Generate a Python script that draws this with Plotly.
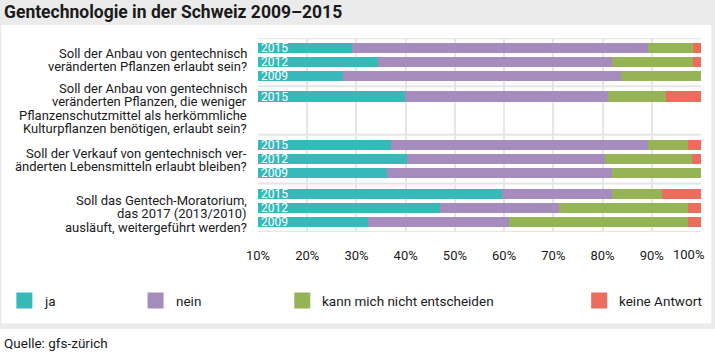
import plotly.graph_objects as go

# ---------------- data ----------------
questions = [
    ["Soll der Anbau von gentechnisch", "veränderten Pflanzen erlaubt sein?"],
    ["Soll der Anbau von gentechnisch", "veränderten Pflanzen, die weniger",
     "Pflanzenschutzmittel als herkömmliche", "Kulturpflanzen benötigen, erlaubt sein?"],
    ["Soll der Verkauf von gentechnisch ver-", "änderten Lebensmitteln erlaubt bleiben?"],
    ["Soll das Gentech-Moratorium,", "das 2017 (2013/2010)", "ausläuft, weitergeführt werden?"],
]
# years per question
years = [["2015", "2012", "2009"], ["2015"], ["2015", "2012", "2009"], ["2015", "2012", "2009"]]

series_names = ["ja", "nein", "kann mich nicht entscheiden", "keine Antwort"]
ja = [29.1, 34.4, 27.2, 39.8, 37.1, 40.3, 36.2, 59.5, 47.0, 32.3]
nein = [60.1, 47.6, 56.6, 41.3, 52.2, 40.2, 45.8, 22.5, 24.2, 28.6]
kann = [9.1, 16.3, 16.2, 11.8, 8.0, 17.7, 18.0, 10.0, 26.1, 36.4]
keine = [1.7, 1.7, 0.0, 7.1, 2.7, 1.8, 0.0, 8.0, 2.7, 2.7]

tick_vals = [10, 20, 30, 40, 50, 60, 70, 80, 90, 100]
tick_text = [f"{v}%" for v in tick_vals]

colors = ["#37b8b9", "#a68bbd", "#96b356", "#ec6c5e"]

# ---------------- layout geometry ----------------
W, H = 715, 355
L, R, T, B = 258.3, 14.3, 38, 123
PW, PH = W - L - R, H - T - B

GAP = 0.47
group_slots = [3, 3, 3, 3]  # vertical slots each group occupies
ypos, seps = [], []
start = 0.0
for gi, ys in enumerate(years):
    for k in range(len(ys)):
        ypos.append(start + k)
    end = start + group_slots[gi]
    seps.append(end - 0.5 + GAP / 2)
    start = end + GAP
seps = seps[:-1]
y_top, y_bot = -0.71, 13.14

# vertical pixel centre of the first text line of each question label, and line pitch
label_first_line_px = [53.5, 88.5, 153, 200.5]
LINE_PX = 13.3

fig = go.Figure()
for name, vals, c in zip(series_names, [ja, nein, kann, keine], colors):
    fig.add_trace(go.Bar(
        y=ypos, x=vals, orientation="h", name=name,
        marker=dict(color=c, line=dict(width=0)), width=0.74,
        showlegend=False, hoverinfo="x+name",
    ))

def px_to_paper_x(px):
    return (px - L) / PW

def px_to_paper_y(py):
    return (H - B - py) / PH

shapes = []
# grey frame background and white panel
shapes.append(dict(type="rect", xref="paper", yref="paper", layer="below",
                   x0=px_to_paper_x(0), x1=px_to_paper_x(W),
                   y0=px_to_paper_y(329), y1=px_to_paper_y(0),
                   fillcolor="#ebebeb", line=dict(width=0)))
shapes.append(dict(type="rect", xref="paper", yref="paper", layer="below",
                   x0=px_to_paper_x(2), x1=px_to_paper_x(711),
                   y0=px_to_paper_y(323.5), y1=px_to_paper_y(25),
                   fillcolor="#ffffff", line=dict(width=0)))
# group separator lines
for s in seps + [y_top + 0.02, y_bot - 0.02]:
    shapes.append(dict(type="line", xref="paper", yref="y", layer="below",
                       x0=0, x1=1, y0=s, y1=s,
                       line=dict(color="#e6e6e6", width=2)))

annotations = []
TXT = "#1a1a1a"
# question labels, one annotation per line for tight line spacing
for lines, y0 in zip(questions, label_first_line_px):
    for i, line in enumerate(lines):
        annotations.append(dict(text=line, x=px_to_paper_x(249), xref="paper",
                                y=px_to_paper_y(y0 + i * LINE_PX), yref="paper",
                                xanchor="right", yanchor="middle", showarrow=False,
                                font=dict(family="Roboto", size=13, color=TXT)))
# year labels inside bars
flat_years = [y for ys in years for y in ys]
for yr, yp in zip(flat_years, ypos):
    annotations.append(dict(text=yr, x=0, xref="x domain", y=yp, yref="y",
                            xanchor="left", yanchor="middle", xshift=1, showarrow=False,
                            font=dict(family="Roboto", size=12, color="#ffffff")))
# last tick label: pulled left so it stays inside the frame (as in the original)
annotations.append(dict(text=tick_text[-1], x=tick_vals[-1], xref="x",
                        y=0, yref="paper", yshift=-22, xshift=5,
                        xanchor="right", yanchor="middle", showarrow=False,
                        font=dict(family="Roboto", size=13, color=TXT)))
# title
annotations.append(dict(text="<b>Gentechnologie in der Schweiz 2009–2015</b>",
                        x=px_to_paper_x(3), xref="paper", y=px_to_paper_y(12), yref="paper",
                        xanchor="left", yanchor="middle", showarrow=False,
                        font=dict(family="Roboto", size=17.5, color=TXT)))
# source
annotations.append(dict(text="Quelle: gfs-zürich",
                        x=px_to_paper_x(3), xref="paper", y=px_to_paper_y(343), yref="paper",
                        xanchor="left", yanchor="middle", showarrow=False,
                        font=dict(family="Roboto", size=13.5, color=TXT)))
# legend (manual, to keep the original spacing)
legend_x = [17, 148, 294.5, 591]
for name, c, lx in zip(series_names, colors, legend_x):
    shapes.append(dict(type="rect", xref="paper", yref="paper",
                       x0=px_to_paper_x(lx), x1=px_to_paper_x(lx + 16),
                       y0=px_to_paper_y(308.5), y1=px_to_paper_y(292.5),
                       fillcolor=c, line=dict(width=0)))
    annotations.append(dict(text=name, x=px_to_paper_x(lx + 26), xref="paper",
                            y=px_to_paper_y(300.5), yref="paper",
                            xanchor="left", yanchor="middle", showarrow=False,
                            font=dict(family="Roboto", size=13.5, color=TXT)))

# axis shows all labels but the last one, which is drawn as an annotation above
tick_text_shown = tick_text[:-1] + [""]

fig.update_layout(
    width=W, height=H,
    margin=dict(l=L, r=R, t=T, b=B, pad=0, autoexpand=False),
    barmode="stack", bargap=0,
    paper_bgcolor="#ffffff", plot_bgcolor="rgba(0,0,0,0)",
    showlegend=False,
    shapes=shapes, annotations=annotations,
    xaxis=dict(range=[10, 100], tickvals=tick_vals, ticktext=tick_text_shown,
               showgrid=True, gridcolor="#e6e6e6", gridwidth=2, zeroline=False,
               showline=False, ticks="", ticklabelstandoff=14,
               ticklabeloverflow="allow", automargin=False,
               tickfont=dict(family="Roboto", size=13, color=TXT)),
    yaxis=dict(range=[y_bot, y_top], showticklabels=False, showgrid=False,
               zeroline=False, showline=False, ticks="", automargin=False),
)

fig.write_html("out.html", config={"displayModeBar": False},
               post_script="document.body.style.margin='0';document.body.style.padding='0';")
